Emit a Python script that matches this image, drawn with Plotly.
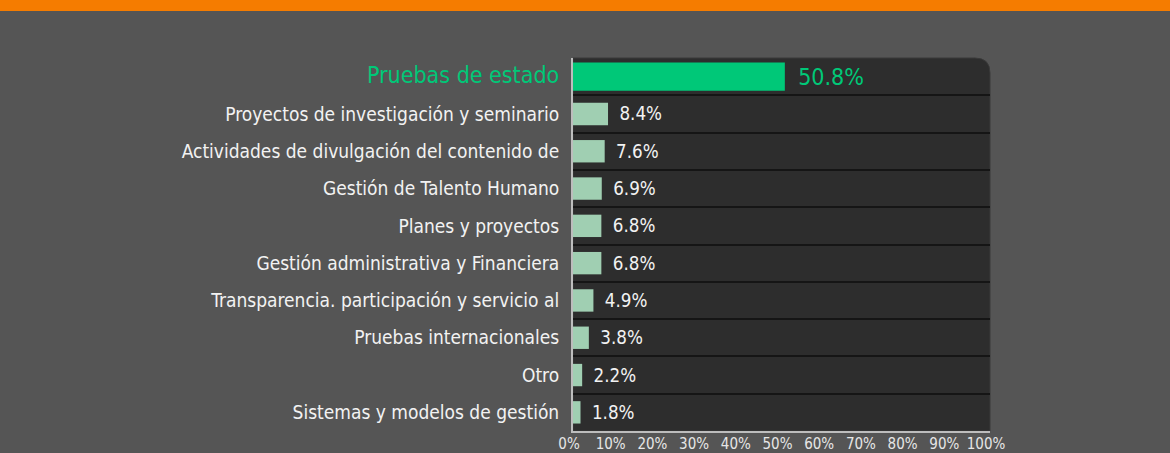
import plotly.graph_objects as go

# Survey categories (top to bottom) and their share in percent
categories = [
    "Pruebas de estado",
    "Proyectos de investigación y seminario",
    "Actividades de divulgación del contenido de",
    "Gestión de Talento Humano",
    "Planes y proyectos",
    "Gestión administrativa y Financiera",
    "Transparencia. participación y servicio al",
    "Pruebas internacionales",
    "Otro",
    "Sistemas y modelos de gestión",
]
values = [50.8, 8.4, 7.6, 6.9, 6.8, 6.8, 4.9, 3.8, 2.2, 1.8]
x_ticks = [0, 10, 20, 30, 40, 50, 60, 70, 80, 90, 100]

highlight = "#00c878"
bar_color = "#a0cfb2"
label_font = "DejaVu Sans Condensed, Liberation Sans Narrow, sans-serif"

colors = [highlight] + [bar_color] * (len(values) - 1)
text_colors = [highlight] + ["#f2f2f2"] * (len(values) - 1)
text_sizes = [23] + [20] * (len(values) - 1)
widths = [0.76] + [0.6] * (len(values) - 1)

ticktext = []
for i, c in enumerate(categories):
    if i == 0:
        ticktext.append(f"<span style='color:{highlight};font-size:23px'>{c}</span>")
    else:
        ticktext.append(c)

fig = go.Figure()
fig.add_trace(go.Bar(
    y=categories,
    x=values,
    orientation="h",
    width=widths,
    marker=dict(color=colors, line=dict(width=0)),
    text=["\u2002" + f"{v:.1f}%" for v in values],
    textposition="outside",
    textfont=dict(color=text_colors, size=text_sizes, family=label_font),
    cliponaxis=False,
    hoverinfo="skip",
))

# rounded dark panel behind the bars
r_x, r_y = 0.036, 0.04
panel_path = (
    f"M 0 0 L 1 0 L 1 {1 - r_y} Q 1 1 {1 - r_x} 1 L 0 1 Z"
)
fig.add_shape(type="path", path=panel_path, xref="x domain", yref="y domain",
              fillcolor="#2d2d2d", line=dict(width=1, color="#3a3a3a"), layer="below")

# orange band at the top of the page
fig.add_shape(type="rect", xref="paper", yref="paper", x0=-2, x1=2,
              y0=1 + 47 / 373, y1=1.3, fillcolor="#f57c00", line=dict(width=0))

fig.update_layout(
    width=1170,
    height=453,
    margin=dict(l=573, r=180, t=58, b=22, autoexpand=False),
    paper_bgcolor="#555555",
    plot_bgcolor="rgba(0,0,0,0)",
    showlegend=False,
    font=dict(family=label_font, color="#f2f2f2"),
    bargap=0.2,
)
fig.update_xaxes(
    range=[0, 100],
    tickvals=x_ticks,
    ticktext=[f"{t}%" for t in x_ticks],
    tickfont=dict(size=15, color="#e6e6e6"),
    showgrid=False,
    zeroline=False,
    showline=True,
    linecolor="#bdbdbd",
    linewidth=2,
    ticklabelshift=-4,
    ticklabelstandoff=-2,
    automargin=False,
    fixedrange=True,
)
fig.update_yaxes(
    categoryorder="array",
    categoryarray=categories,
    autorange="reversed",
    tickvals=categories,
    ticktext=ticktext,
    tickfont=dict(size=19, color="#f2f2f2"),
    showgrid=True,
    gridcolor="#151515",
    gridwidth=2,
    tickson="boundaries",
    ticks="",
    ticklabelstandoff=8,
    showline=True,
    linecolor="#bdbdbd",
    linewidth=2,
    zeroline=False,
    automargin=False,
    fixedrange=True,
)

fig.write_html("out.html", config={"displayModeBar": False},
               post_script="document.body.style.margin='0';")
